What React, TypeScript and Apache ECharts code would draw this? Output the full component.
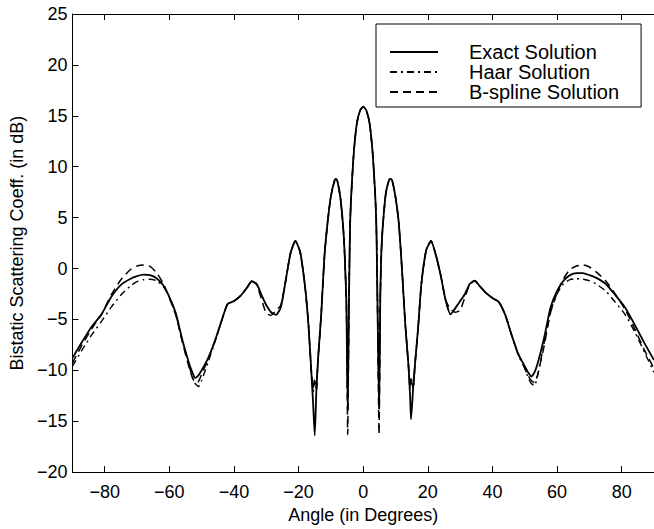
import React, { useEffect, useRef } from "react";
import * as echarts from "echarts";

const angles = [
  -90, -87, -84, -81, -78, -75, -72, -70, -68, -66,
  -64, -62, -60, -58, -56, -54, -53, -52, -51, -50,
  -48, -46, -44, -42, -40, -38, -36, -34.5, -33, -31.5,
  -30, -28.5, -27, -25.5, -24, -22.5, -21, -19.5, -18, -17,
  -16, -15.5, -15, -14.5, -14, -13, -12, -11, -10, -9,
  -8.5, -8, -7, -6, -5.5, -5.2, -4.8, -4.4, -4, -3,
  -2, -1, 0, 1, 2, 3, 4, 4.4, 4.9, 5.3,
  5.6, 6, 7, 8, 8.5, 9, 10, 11, 12, 13,
  14, 14.5, 14.8, 15.5, 16, 17, 18, 19.5, 21, 22.5,
  24, 25.5, 27, 28.5, 30, 31.5, 33, 34.5, 36, 38,
  40, 42, 44, 46, 48, 50, 51, 52, 53, 54,
  56, 58, 60, 62, 64, 66, 68, 70, 72, 75,
  78, 81, 84, 87, 90,
];

const exactDb = [
  -8.8, -7.2, -5.7, -4.5, -2.8, -1.6, -1.0, -0.75, -0.6, -0.65,
  -0.95, -1.6, -2.8, -4.4, -7.0, -9.2, -10.1, -10.75, -10.5, -10.0,
  -8.8, -7.2, -5.3, -3.5, -3.2, -2.7, -1.9, -1.25, -1.5, -2.6,
  -3.6, -4.3, -4.55, -3.8, -1.2, 1.5, 2.7, 1.6, -1.8, -5.3,
  -10.5, -13.3, -16.4, -12.0, -9.0, -4.5, 1.2, 4.6, 7.1, 8.5,
  8.8, 8.6, 6.8, 3.1, -0.6, -3.5, -13.8, -3.0, 5.0, 11.0,
  14.2, 15.5, 15.9, 15.5, 14.2, 11.0, 5.0, -3.0, -13.8, -2.5,
  1.5, 3.9, 7.4, 8.7, 8.8, 8.6, 7.0, 4.5, -0.1, -5.4,
  -9.5, -12.5, -14.8, -11.5, -9.5, -5.8, -1.5, 1.8, 2.7, 1.3,
  -0.7, -3.1, -4.5, -3.9, -3.2, -2.5, -1.5, -1.2, -1.7, -2.4,
  -2.9, -3.3, -4.6, -6.6, -8.4, -9.6, -10.2, -10.6, -10.2, -9.3,
  -6.8, -3.8, -2.2, -1.2, -0.65, -0.45, -0.45, -0.65, -0.9, -1.5,
  -2.6, -3.8, -5.5, -7.3, -9.0,
];

const haarDb = [
  -9.6, -8.0, -6.5, -5.2, -3.8, -2.6, -1.7, -1.3, -1.1, -1.05,
  -1.2, -1.7, -2.8, -4.5, -7.1, -9.4, -10.6, -11.3, -11.6, -11.0,
  -9.2, -7.3, -5.3, -3.5, -3.2, -2.7, -1.9, -1.25, -1.5, -2.6,
  -3.6, -4.3, -4.55, -3.8, -1.2, 1.5, 2.7, 1.6, -1.8, -5.3,
  -10.4, -12.2, -11.0, -12.0, -9.0, -4.5, 1.2, 4.6, 7.1, 8.5,
  8.8, 8.6, 6.8, 3.1, -0.6, -3.5, -13.2, -3.0, 5.0, 11.0,
  14.2, 15.5, 15.9, 15.5, 14.2, 11.0, 5.0, -3.0, -13.2, -2.5,
  1.5, 3.9, 7.4, 8.7, 8.8, 8.6, 7.0, 4.5, -0.1, -5.4,
  -9.5, -11.8, -11.0, -11.8, -9.5, -5.8, -1.5, 1.8, 2.7, 1.3,
  -0.7, -3.1, -4.5, -3.9, -3.2, -2.5, -1.5, -1.2, -1.7, -2.4,
  -2.9, -3.3, -4.6, -6.6, -8.5, -9.8, -10.7, -11.3, -11.5, -10.5,
  -7.3, -4.2, -2.5, -1.5, -1.1, -1.0, -1.05, -1.2, -1.5, -2.2,
  -3.3, -4.5, -6.2, -8.2, -10.2,
];

const bsplineDb = [
  -9.3, -7.5, -5.9, -4.5, -2.6, -1.1, -0.1, 0.25, 0.35, 0.2,
  -0.4, -1.4, -2.9, -4.6, -7.2, -9.6, -10.6, -11.2, -11.1, -10.4,
  -8.9, -7.2, -5.3, -3.5, -3.2, -2.7, -1.9, -1.25, -1.6, -3.0,
  -4.4, -4.6, -4.1, -3.6, -1.2, 1.5, 2.7, 1.6, -1.8, -5.3,
  -10.3, -11.8, -10.8, -11.6, -9.0, -4.5, 1.2, 4.6, 7.1, 8.5,
  8.8, 8.6, 6.8, 3.1, -0.6, -3.5, -16.3, -3.0, 5.0, 11.0,
  14.2, 15.5, 15.9, 15.5, 14.2, 11.0, 5.0, -3.0, -16.3, -2.5,
  1.5, 3.9, 7.4, 8.7, 8.8, 8.6, 7.0, 4.5, -0.1, -5.4,
  -9.5, -11.6, -10.8, -11.6, -9.5, -5.8, -1.5, 1.8, 2.7, 1.3,
  -0.7, -3.1, -4.0, -4.3, -4.1, -2.8, -1.6, -1.2, -1.7, -2.4,
  -2.9, -3.3, -4.6, -6.6, -8.4, -9.8, -10.5, -11.0, -11.2, -10.4,
  -7.6, -4.3, -2.4, -1.0, -0.1, 0.25, 0.35, 0.15, -0.3, -1.2,
  -2.5, -4.0, -5.9, -8.0, -9.8,
];

const xTickValues = [-80, -60, -40, -20, 0, 20, 40, 60, 80];
const seriesNames = ["Exact Solution", "Haar Solution", "B-spline Solution"];

const FONT = "'Liberation Sans', Arial, Helvetica, sans-serif";
const minus = (v: number) => String(v).replace("-", "\u2212");

export default function App() {
  const ref = useRef<HTMLDivElement>(null);

  useEffect(() => {
    if (!ref.current) return;
    const chart = echarts.init(ref.current, null, { renderer: "svg" });
    const pair = (ys: number[]) => angles.map((a, i) => [a, ys[i]]);
    const axisLine = { show: true, onZero: false, lineStyle: { color: "#000", width: 1 } };

    chart.setOption({
      animation: false,
      backgroundColor: "#fff",
      textStyle: { fontFamily: FONT },
      grid: { left: 69, top: 14, width: 594, height: 465 },
      legend: {
        orient: "vertical",
        left: 376,
        top: 24,
        data: seriesNames,
        backgroundColor: "#fff",
        borderColor: "#000",
        borderWidth: 1,
        borderRadius: 0,
        padding: [18, 22, 5, 13],
        itemGap: 0,
        itemWidth: 48,
        itemHeight: 14,
        selectedMode: false,
        itemStyle: { color: "transparent", borderColor: "transparent", borderWidth: 0, opacity: 0 },
        textStyle: {
          color: "#000",
          fontSize: 20,
          lineHeight: 20,
          fontFamily: FONT,
          padding: [0, 0, 0, 26],
        },
      },
      xAxis: [
        {
          type: "value",
          min: -90,
          max: 90,
          position: "bottom",
          axisLine,
          axisTick: {
            show: true,
            inside: true,
            length: 6,
            customValues: xTickValues,
            lineStyle: { color: "#000" },
          },
          axisLabel: {
            customValues: xTickValues,
            formatter: minus,
            color: "#000",
            fontSize: 18,
            margin: 11,
          },
          splitLine: { show: false },
          name: "Angle (in Degrees)",
          nameLocation: "middle",
          nameGap: 17,
          nameTextStyle: { color: "#000", fontSize: 18 },
        },
        {
          type: "value",
          min: -90,
          max: 90,
          position: "top",
          axisLine,
          axisTick: {
            show: true,
            inside: true,
            length: 6,
            customValues: xTickValues,
            lineStyle: { color: "#000" },
          },
          axisLabel: { show: false },
          splitLine: { show: false },
        },
      ],
      yAxis: [
        {
          type: "value",
          min: -20,
          max: 25,
          interval: 5,
          axisLine,
          axisTick: { show: true, inside: true, length: 6, lineStyle: { color: "#000" } },
          axisLabel: { formatter: minus, color: "#000", fontSize: 18, margin: 5 },
          splitLine: { show: false },
          name: "Bistatic Scattering Coeff. (in dB)",
          nameLocation: "middle",
          nameRotate: 90,
          nameGap: 42,
          nameTextStyle: { color: "#000", fontSize: 18 },
        },
      ],
      series: [
        {
          name: seriesNames[0],
          type: "line",
          data: pair(exactDb),
          symbol: "none",
          smooth: 0.2,
          lineStyle: { color: "#000", width: 1.8, type: "solid" },
          itemStyle: { color: "#000" },
          z: 3,
        },
        {
          name: seriesNames[1],
          type: "line",
          data: pair(haarDb),
          symbol: "none",
          smooth: 0.2,
          lineStyle: { color: "#000", width: 1.4, type: [7, 4, 2, 4] },
          itemStyle: { color: "#000" },
          z: 2,
        },
        {
          name: seriesNames[2],
          type: "line",
          data: pair(bsplineDb),
          symbol: "none",
          smooth: 0.2,
          lineStyle: { color: "#000", width: 1.5, type: [8, 5] },
          itemStyle: { color: "#000" },
          z: 2,
        },
      ],
    });

    return () => chart.dispose();
  }, []);

  return (
    <div
      ref={ref}
      style={{ position: "absolute", left: 0, top: 0, width: 654, height: 529, background: "#fff" }}
    />
  );
}
